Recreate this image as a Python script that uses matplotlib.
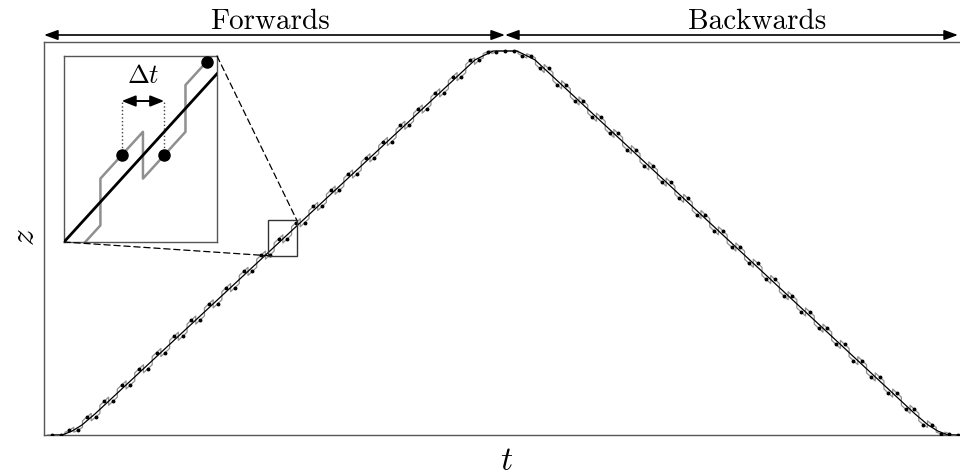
import numpy as np
import matplotlib
matplotlib.use("Agg")
from matplotlib import pyplot as plt
from matplotlib.patches import Rectangle, ConnectionPatch

plt.rcParams['mathtext.fontset'] = 'cm'

# forward half of the trajectory z(t); the backward half mirrors it
T_KNOTS = [0.0, 0.022, 0.044, 0.066, 0.095, 0.934, 0.956, 0.974, 1.0]
Z_KNOTS = [0.0, 0.0, 0.010, 0.026, 0.055, 0.977, 0.990, 1.0, 1.0]
N_STEPS = 52          # time steps per half
INSET_STEP = 26       # first step shown in the zoom
PHASES = ['Forwards', 'Backwards']

SERIF = ['cmr10', 'DejaVu Serif']
GREY = '#8f8f8f'

t_knots = np.array(T_KNOTS)
z_knots = np.array(Z_KNOTS)
t_path = np.concatenate([t_knots, 2 - t_knots[::-1][1:]])
z_path = np.concatenate([z_knots, z_knots[::-1][1:]])


def z_of(t):
    return np.interp(t, t_path, z_path)


dt = 1.0 / N_STEPS
steps = np.arange(2 * N_STEPS + 1)
t_dots = steps * dt
sign = np.where(steps % 2 == 0, 1.0, -1.0)
z_dots = z_of(t_dots + sign * dt / 2)

# staggered path: each step follows the trajectory shifted by +-dt/2
seg_t, seg_z = [], []
for tk, s in zip(t_dots, sign):
    tt = np.linspace(tk - dt / 2, tk + dt / 2, 9)
    seg_t.append(tt)
    seg_z.append(z_of(tt + s * dt / 2))
g_t = np.concatenate(seg_t)
g_z = np.concatenate(seg_z)


def draw(ax, lw_g, lw_b, ms):
    ax.plot(g_t, g_z, color=GREY, lw=lw_g, zorder=2)
    ax.plot(t_path, z_path, color='black', lw=lw_b, zorder=3)
    ax.plot(t_dots, z_dots, 'o', color='black', ms=ms, zorder=4)


fig = plt.figure(figsize=(9.6, 4.75), dpi=100)
W_PX, H_PX = 960, 475
ax = fig.add_axes([44 / W_PX, 40 / H_PX, (1000 - 44) / W_PX, 393 / H_PX])
draw(ax, 0.9, 0.9, 1.8)
ax.set_xlim(-8 / 453, 948 / 453)
ax.set_ylim(0, 393 / 384)
ax.set_xticks([])
ax.set_yticks([])
for sp in ax.spines.values():
    sp.set_color('#555555')
    sp.set_linewidth(1.0)

# phase arrows above the axes
arrow_kw = dict(arrowstyle='<|-|>,head_length=0.55,head_width=0.2', color='black',
                lw=1.2, shrinkA=0, shrinkB=0, mutation_scale=15)
y_arr = (435 - 35) / 393
ax.annotate('', xy=(1.0, y_arr), xytext=(-8 / 453, y_arr),
            xycoords=('data', 'axes fraction'), arrowprops=arrow_kw, annotation_clip=False)
ax.annotate('', xy=(2.0, y_arr), xytext=(1.0, y_arr),
            xycoords=('data', 'axes fraction'), arrowprops=arrow_kw, annotation_clip=False)
y_txt = (435 - 29) / 393
ax.text((270 - 52) / 453, y_txt, PHASES[0], transform=ax.get_xaxis_transform(),
        ha='center', va='baseline', fontsize=21, family=SERIF)
ax.text((757 - 52) / 453, y_txt, PHASES[1], transform=ax.get_xaxis_transform(),
        ha='center', va='baseline', fontsize=21, family=SERIF)

fig.text(25 / W_PX, 1 - 237 / H_PX, '$z$', rotation=90, ha='center', va='center', fontsize=24)
fig.text(507 / W_PX, 1 - 460 / H_PX, '$t$', ha='center', va='center', fontsize=24)

# zoomed view of a few steps
ins = fig.add_axes([64 / W_PX, 1 - 242 / H_PX, 153 / W_PX, 186 / H_PX])
draw(ins, 1.8, 2.0, 8)
iw = dt / 0.278
x0 = INSET_STEP * dt - 0.377 * iw
ih = 1.215 * iw
y0 = z_of(x0)
ins.set_xlim(x0, x0 + iw)
ins.set_ylim(y0, y0 + ih)
ins.set_xticks([])
ins.set_yticks([])
for sp in ins.spines.values():
    sp.set_color('#555555')
    sp.set_linewidth(1.0)

ta, tb = t_dots[INSET_STEP], t_dots[INSET_STEP + 1]
y_da = y0 + 0.758 * ih
ins.plot([ta, ta], [z_dots[INSET_STEP], y_da], ':', color='#444444', lw=1)
ins.plot([tb, tb], [z_dots[INSET_STEP + 1], y_da], ':', color='#444444', lw=1)
ins.annotate('', xy=(tb, y_da), xytext=(ta, y_da),
             arrowprops=dict(arrowstyle='<|-|>,head_length=0.55,head_width=0.22',
                             color='black', lw=1.4, shrinkA=0, shrinkB=0, mutation_scale=15))
ins.text((ta + tb) / 2, y0 + 0.89 * ih, r'$\Delta t$', ha='center', va='center', fontsize=19)

# marker box on the main curve and dashed connectors
cx, cy = x0 + iw / 2, y0 + ih / 2
rw, rh = 28.7 / 453, 35.7 / 384
ax.add_patch(Rectangle((cx - rw / 2, cy - rh / 2), rw, rh, fill=False,
                       ec='#333333', lw=1.0, zorder=5))
for xa, xb in [((1, 1), (cx + rw / 2, cy + rh / 2)), ((0, 0), (cx - rw / 2, cy - rh / 2))]:
    fig.add_artist(ConnectionPatch(xyA=xa, coordsA=ins.transAxes, xyB=xb, coordsB=ax.transData,
                                   ls=(0, (5, 3)), color='black', lw=0.9))

fig.savefig('out.png', dpi=100)
